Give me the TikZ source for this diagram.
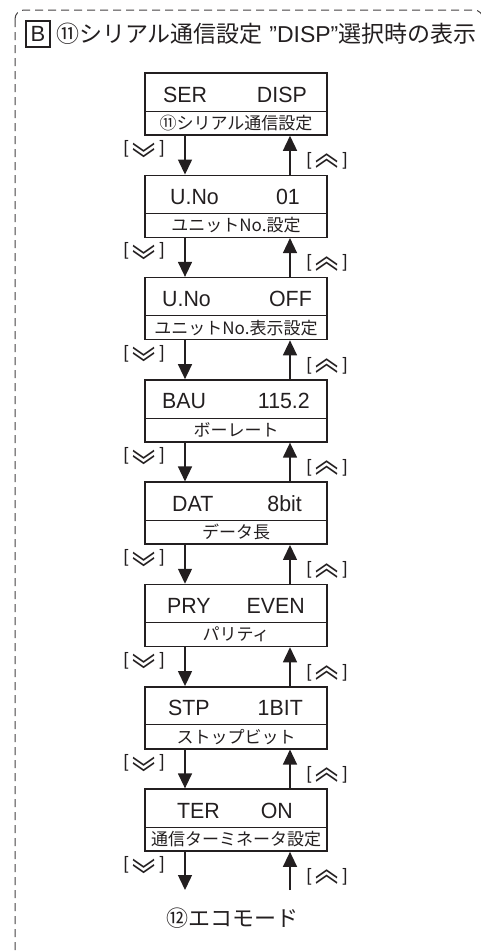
\documentclass[tikz,border=0pt]{standalone}
\usepackage{fontspec}
\setmainfont{Liberation Sans}
\newfontfamily\jp{Noto Sans CJK JP}
\newfontfamily\lat{Liberation Sans}[FakeStretch=0.97]
\usetikzlibrary{arrows.meta}
\definecolor{ink}{RGB}{35,31,32}
\newcommand{\chev}[2]{\raisebox{-1.6pt}{\scalebox{1.1}[1.6]{\raisebox{#1}{\jp\fontsize{21}{21}\selectfont #2}}}}
\begin{document}
\begin{tikzpicture}[x=1pt, y=-1pt, >={Triangle[width=14pt,length=15pt]},
          box/.style={draw=ink, line width=1.5pt, minimum width=182pt, minimum height=62pt, inner sep=0pt},
          val/.style={font=\lat\fontsize{22}{22}\selectfont, text=ink, inner sep=0pt},
          sub/.style={font=\jp\fontsize{17}{17}\selectfont, text=ink, inner sep=0pt},
          key/.style={font=\lat\fontsize{18}{18}\selectfont, text=ink, inner sep=0pt},
          flow/.style={draw=ink, line width=1.4pt, ->}]
        \useasboundingbox (0,0) rectangle (481,951);
        \draw[ink!85, line width=1pt, dash pattern=on 8pt off 5pt, rounded corners=9pt] (15,10) rectangle (483,990);
        \node[draw=ink, line width=1.2pt, minimum width=24pt, minimum height=26pt, inner sep=0pt,
          font=\fontsize{22}{22}\selectfont, text=ink] (tb) at (38,34) {B};
        \node[anchor=west, inner sep=0pt, text=ink, font=\fontsize{23}{23}\selectfont] (tt) at (56,34)
          {{\jp ⑪シリアル通信設定} ”DISP”{\jp 選択時の表示}};
        \coordinate (dn) at (185,0);
        \coordinate (up) at (290,0);
        \foreach \i/\t/\xl/\va/\xr/\vb/\sb in {1/73.0/163/SER/307/DISP/⑪シリアル通信設定,
            2/175.3/170/U.No/300/01/ユニットNo.設定, 3/277.6/162/U.No/312/OFF/ユニットNo.表示設定,
            4/379.9/162/BAU/310/115.2/ボーレート, 5/482.2/172/DAT/302/8bit/データ長,
            6/584.5/167/PRY/305/EVEN/パリティ, 7/686.8/168/STP/303/1BIT/ストップビット,
            8/789.1/177/TER/293/ON/通信ターミネータ設定} {
          \node[box] (b\i) at (236,\t+31) {};
          \draw[ink, line width=0.8pt] (145,\t+38) -- (327,\t+38);
          \node[val, anchor=base west] (l\i) at (\xl,\t+29) {\va};
          \node[val, anchor=base east] (r\i) at (\xr,\t+29) {\vb};
          \node[sub] (s\i) at (236,\t+50) {\sb};
          \node[key] (kd\i) at (144,\t+83) {[\hspace{4pt}\chev{-0.56em}{︾}\hspace{4pt}]};
          \node[key] (ku\i) at (327,\t+88) {[\hspace{4pt}\chev{0.05em}{︽}\hspace{4pt}]};
        }
        \foreach \i/\j in {1/2, 2/3, 3/4, 4/5, 5/6, 6/7, 7/8} {
          \draw[flow] (b\i.south -| dn) -- (b\j.north -| dn);
          \draw[flow] (b\j.north -| up) -- (b\i.south -| up);
        }
        \coordinate (e1) at (185,890);
        \coordinate (e2) at (290,890);
        \draw[flow] (b8.south -| dn) -- (e1);
        \draw[flow] (e2) -- (b8.south -| up);
        \node[inner sep=0pt, text=ink, font=\jp\fontsize{22}{22}\selectfont] (eco) at (232,918) {⑫エコモード};
      \end{tikzpicture}
\end{document}
